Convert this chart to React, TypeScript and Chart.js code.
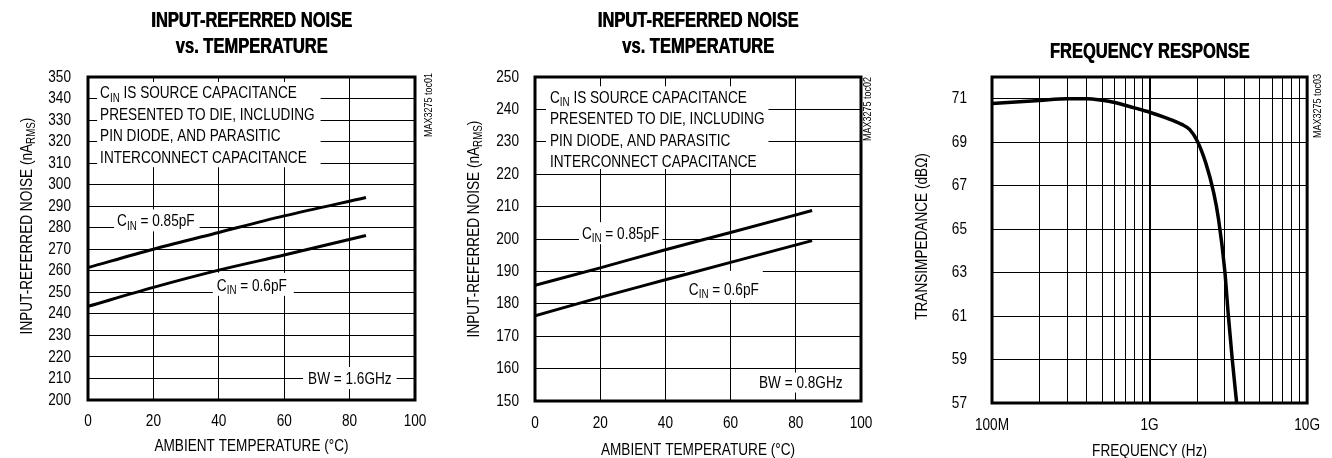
import React, { useEffect, useRef } from 'react';
import { Chart, registerables } from 'chart.js';

Chart.register(...registerables);

const FONT = "'Liberation Sans', Arial, sans-serif";
const SX = 0.82; // horizontal condensing of regular text (Helvetica Condensed look)
const SXB = 0.75; // condensing of bold (title) text
Chart.defaults.font.family = FONT;
Chart.defaults.color = '#000';

// ---------- data ----------
const TEMP_C = [0, 20, 40, 60, 85];
const NOISE_BW16_085PF = [261.5, 270.0, 277.8, 285.5, 294.0];
const NOISE_BW16_06PF = [243.5, 252.3, 260.3, 267.3, 276.4];
const NOISE_BW08_085PF = [185.7, 191.1, 196.7, 202.0, 208.8];
const NOISE_BW08_06PF = [176.3, 182.0, 187.4, 192.8, 199.5];

const FREQ_HZ = [1e8, 2e8, 3e8, 4e8, 5e8, 6e8, 7e8, 8e8, 1e9, 1.26e9, 1.6e9, 1.8e9, 2.0e9, 2.27e9, 2.55e9, 2.74e9, 3.0e9, 3.16e9, 3.35e9, 3.57e9];
const TRANSIMPEDANCE_DB = [70.78, 70.92, 71.0, 71.0, 70.93, 70.83, 70.7, 70.58, 70.38, 70.13, 69.82, 69.58, 69.08, 68.06, 66.69, 65.46, 63.1, 61.05, 58.98, 57.0];

const FREQ_GRID = [1e8, 2e8, 3e8, 4e8, 5e8, 6e8, 7e8, 8e8, 9e8, 1e9, 2e9, 3e9, 4e9, 5e9, 6e9, 7e9, 8e9, 9e9, 1e10];
const FREQ_LABELS: Record<string, string> = { '100000000': '100M', '1000000000': '1G', '10000000000': '10G' };
const DB_TICKS = [57, 59, 61, 63, 65, 67, 69, 71];

type Seg = { t: string; sub?: boolean };
type Note = { x: number; y: number; lines: Seg[][]; padL: number; padR: number; padT: number; padB: number };

const CIN: Seg[] = [{ t: 'C' }, { t: 'IN', sub: true }];
const NOTE_LINES: Seg[][] = [
  [...CIN, { t: ' IS SOURCE CAPACITANCE' }],
  [{ t: 'PRESENTED TO DIE, INCLUDING' }],
  [{ t: 'PIN DIODE, AND PARASITIC' }],
  [{ t: 'INTERCONNECT CAPACITANCE' }],
];

const TXT = 16.6;
const LINE_GAP = 21.4;
const CAP = 0.716;

function condense(ctx: any) {
  if (ctx.__condensed) return;
  ctx.__condensed = true;
  const origFill = ctx.fillText.bind(ctx);
  const origMeasure = ctx.measureText.bind(ctx);
  const isBold = () => /bold|[6-9]00/.test(ctx.font);
  ctx.fillText = function (text: string, x: number, y: number, maxWidth?: number) {
    const bold = isBold();
    const sx = bold ? SXB : SX;
    ctx.save();
    ctx.translate(x, y);
    ctx.scale(sx, 1);
    const mw = maxWidth === undefined || maxWidth === null ? undefined : maxWidth / sx;
    const draw = (dx: number) => (mw === undefined ? origFill(text, dx, 0) : origFill(text, dx, 0, mw));
    draw(0);
    if (bold) draw(0.7);
    ctx.restore();
  };
  ctx.measureText = function (text: string) {
    const sx = isBold() ? SXB : SX;
    const m = origMeasure(text);
    return {
      width: m.width * sx,
      actualBoundingBoxAscent: m.actualBoundingBoxAscent,
      actualBoundingBoxDescent: m.actualBoundingBoxDescent,
      actualBoundingBoxLeft: m.actualBoundingBoxLeft * sx,
      actualBoundingBoxRight: m.actualBoundingBoxRight * sx,
      fontBoundingBoxAscent: m.fontBoundingBoxAscent,
      fontBoundingBoxDescent: m.fontBoundingBoxDescent,
    };
  };
}

function segWidth(ctx: CanvasRenderingContext2D, segs: Seg[], size: number) {
  let w = 0;
  for (const s of segs) {
    ctx.font = `${s.sub ? size * 0.72 : size}px ${FONT}`;
    w += ctx.measureText(s.t).width;
  }
  return w;
}

function drawSegs(ctx: CanvasRenderingContext2D, segs: Seg[], x: number, baseline: number, size: number) {
  let cx = x;
  ctx.textAlign = 'left';
  ctx.textBaseline = 'alphabetic';
  for (const s of segs) {
    ctx.font = `${s.sub ? size * 0.72 : size}px ${FONT}`;
    ctx.fillText(s.t, cx, s.sub ? baseline + size * 0.2 : baseline);
    cx += ctx.measureText(s.t).width;
  }
}

type Decor = {
  notes: Note[];
  yTitle: Seg[];
  yTitleX: number;
  yTitleY: number;
  code: string;
  codeDx: number;
  codeDy: number;
};

function makeDecor(cfg: Decor) {
  return {
    id: 'decor',
    beforeDatasetsDraw(chart: any) {
      const { ctx, scales } = chart;
      ctx.save();
      for (const n of cfg.notes) {
        const left = scales.x.getPixelForValue(n.x);
        const top = scales.y.getPixelForValue(n.y);
        const maxW = Math.max(...n.lines.map((l) => segWidth(ctx, l, TXT)));
        ctx.fillStyle = '#fff';
        ctx.fillRect(left - n.padL, top - n.padT, maxW + n.padL + n.padR, (n.lines.length - 1) * LINE_GAP + n.padT + n.padB);
        ctx.fillStyle = '#000';
        n.lines.forEach((l, i) => drawSegs(ctx, l, left, top + i * LINE_GAP + (TXT * CAP) / 2, TXT));
      }
      ctx.restore();
    },
    afterDatasetsDraw(chart: any) {
      const { ctx, chartArea: a } = chart;
      ctx.save();
      ctx.strokeStyle = '#000';
      ctx.lineWidth = 3;
      ctx.strokeRect(a.left, a.top, a.right - a.left, a.bottom - a.top);
      ctx.restore();
    },
    afterDraw(chart: any) {
      const { ctx, chartArea: a } = chart;
      ctx.save();
      ctx.fillStyle = '#000';
      ctx.translate(cfg.yTitleX, cfg.yTitleY);
      ctx.rotate(-Math.PI / 2);
      const w = segWidth(ctx, cfg.yTitle, TXT);
      drawSegs(ctx, cfg.yTitle, -w / 2, (TXT * CAP) / 2, TXT);
      ctx.restore();
      ctx.save();
      ctx.fillStyle = '#000';
      ctx.translate(a.right + cfg.codeDx, a.top + cfg.codeDy);
      ctx.rotate(-Math.PI / 2);
      ctx.font = `11px ${FONT}`;
      ctx.textAlign = 'center';
      ctx.textBaseline = 'middle';
      ctx.fillText(cfg.code, 0, 0);
      ctx.restore();
    },
  };
}

function lineDs(xs: number[], ys: number[], width = 3) {
  return {
    data: xs.map((x, i) => ({ x, y: ys[i] })),
    borderColor: '#000',
    backgroundColor: '#000',
    borderWidth: width,
    pointRadius: 0,
    cubicInterpolationMode: 'monotone' as const,
    fill: false,
  };
}

type Lay = {
  yWidth: number;
  padRight: number;
  xHeight: number;
  yTickPad: number;
  xTickPad: number;
  xTitlePad: number;
};

const TITLE_FONT = { family: FONT, size: 22, weight: 'bold', lineHeight: 26 / 22 };

function tempConfig(
  title: string[],
  yMin: number,
  yMax: number,
  s085: number[],
  s06: number[],
  lay: Lay,
  decor: Decor
): any {
  return {
    type: 'line',
    data: { datasets: [lineDs(TEMP_C, s085), lineDs(TEMP_C, s06)] },
    options: {
      responsive: false,
      animation: false,
      devicePixelRatio: 1,
      layout: { padding: { left: 0, right: lay.padRight, top: 0, bottom: 0 } },
      plugins: {
        legend: { display: false },
        tooltip: { enabled: false },
        title: {
          display: true,
          text: title,
          fullSize: false,
          color: '#000',
          font: TITLE_FONT,
          padding: { top: 8, bottom: 17 },
        },
      },
      scales: {
        x: {
          type: 'linear',
          min: 0,
          max: 100,
          ticks: { stepSize: 20, padding: lay.xTickPad, font: { size: TXT }, color: '#000', maxRotation: 0 },
          grid: { color: '#000', lineWidth: 1, drawTicks: false },
          border: { display: false },
          title: {
            display: true,
            text: 'AMBIENT TEMPERATURE (°C)',
            color: '#000',
            font: { size: TXT },
            padding: { top: 0, bottom: lay.xTitlePad },
          },
          afterFit: (s: any) => {
            s.height = lay.xHeight;
          },
        },
        y: {
          type: 'linear',
          min: yMin,
          max: yMax,
          ticks: { stepSize: 10, padding: lay.yTickPad, font: { size: TXT }, color: '#000', autoSkip: false },
          grid: { color: '#000', lineWidth: 1, drawTicks: false },
          border: { display: false },
          afterFit: (s: any) => {
            s.width = lay.yWidth;
          },
        },
      },
    },
    plugins: [makeDecor(decor)],
  };
}

function freqConfig(): any {
  return {
    type: 'line',
    data: { datasets: [lineDs(FREQ_HZ, TRANSIMPEDANCE_DB, 3.5)] },
    options: {
      responsive: false,
      animation: false,
      devicePixelRatio: 1,
      layout: { padding: { left: 0, right: 14, top: 0, bottom: 0 } },
      plugins: {
        legend: { display: false },
        tooltip: { enabled: false },
        title: {
          display: true,
          text: 'FREQUENCY RESPONSE',
          fullSize: false,
          color: '#000',
          font: TITLE_FONT,
          padding: { top: 39, bottom: 12 },
        },
      },
      scales: {
        x: {
          type: 'logarithmic',
          min: 1e8,
          max: 1e10,
          afterBuildTicks: (axis: any) => {
            axis.ticks = FREQ_GRID.map((v) => ({ value: v }));
          },
          ticks: {
            autoSkip: false,
            maxRotation: 0,
            padding: 12,
            font: { size: TXT },
            color: '#000',
            callback: (v: any) => FREQ_LABELS[String(v)] ?? '',
          },
          grid: {
            color: '#000',
            drawTicks: false,
            lineWidth: (c: any) => (c.tick && c.tick.value === 1e9 ? 2 : 1),
          },
          border: { display: false },
          title: {
            display: true,
            text: 'FREQUENCY (Hz)',
            color: '#000',
            font: { size: TXT },
            padding: { top: 0, bottom: 2.3 },
          },
          afterFit: (s: any) => {
            s.height = 61;
          },
        },
        y: {
          type: 'linear',
          min: 57,
          max: 72,
          afterBuildTicks: (axis: any) => {
            axis.ticks = DB_TICKS.map((v) => ({ value: v }));
          },
          ticks: { autoSkip: false, padding: 25, font: { size: TXT }, color: '#000' },
          grid: { color: '#000', lineWidth: 1, drawTicks: false },
          border: { display: false },
          afterFit: (s: any) => {
            s.width = 104;
          },
        },
      },
    },
    plugins: [
      makeDecor({
        notes: [],
        yTitle: [{ t: 'TRANSIMPEDANCE (dBΩ)' }],
        yTitleX: 33,
        yTitleY: 236.5,
        code: 'MAX3275 toc03',
        codeDx: 11,
        codeDy: 29,
      }),
    ],
  };
}

const NOISE_TITLE = ['INPUT-REFERRED NOISE', 'vs. TEMPERATURE'];
const Y_NOISE: Seg[] = [{ t: 'INPUT-REFERRED NOISE (nA' }, { t: 'RMS', sub: true }, { t: ')' }];

function config1() {
  return tempConfig(
    NOISE_TITLE,
    200,
    350,
    NOISE_BW16_085PF,
    NOISE_BW16_06PF,
    { yWidth: 88, padRight: 29, xHeight: 64, yTickPad: 17, xTickPad: 11, xTitlePad: 7.3 },
    {
      notes: [
        { x: 3.7, y: 342.8, lines: NOTE_LINES, padL: 3, padR: 6, padT: 10.5, padB: 10.5 },
        { x: 8.9, y: 283.4, lines: [[...CIN, { t: ' = 0.85pF' }]], padL: 3, padR: 5, padT: 11, padB: 11 },
        { x: 39.4, y: 253.5, lines: [[...CIN, { t: ' = 0.6pF' }]], padL: 4, padR: 7, padT: 12, padB: 11 },
        { x: 67.3, y: 210.2, lines: [[{ t: 'BW = 1.6GHz' }]], padL: 5, padR: 5, padT: 11, padB: 11 },
      ],
      yTitle: Y_NOISE,
      yTitleX: 26,
      yTitleY: 226,
      code: 'MAX3275 toc01',
      codeDx: 14,
      codeDy: 28,
    }
  );
}

function config2() {
  return tempConfig(
    NOISE_TITLE,
    150,
    250,
    NOISE_BW08_085PF,
    NOISE_BW08_06PF,
    { yWidth: 91, padRight: 27, xHeight: 63, yTickPad: 16, xTickPad: 12.8, xTitlePad: 3.3 },
    {
      notes: [
        { x: 4.6, y: 243.9, lines: NOTE_LINES, padL: 4, padR: 4, padT: 10.5, padB: 8 },
        { x: 14.4, y: 201.8, lines: [[...CIN, { t: ' = 0.85pF' }]], padL: 3, padR: 3, padT: 11, padB: 11 },
        { x: 47.2, y: 184.6, lines: [[...CIN, { t: ' = 0.6pF' }]], padL: 4, padR: 4, padT: 18, padB: 11 },
        { x: 68.7, y: 156, lines: [[{ t: 'BW = 0.8GHz' }]], padL: 5, padR: 5, padT: 9, padB: 11 },
      ],
      yTitle: Y_NOISE,
      yTitleX: 29,
      yTitleY: 229,
      code: 'MAX3275 toc02',
      codeDx: 7,
      codeDy: 32,
    }
  );
}

function ChartBox({ left, make }: { left: number; make: () => any }) {
  const ref = useRef<HTMLCanvasElement | null>(null);
  useEffect(() => {
    const canvas = ref.current;
    if (!canvas) return;
    const ctx = canvas.getContext('2d');
    if (ctx) condense(ctx);
    const c = new Chart(canvas, make());
    return () => c.destroy();
  }, []);
  return (
    <canvas
      ref={ref}
      width={444}
      height={464}
      style={{ position: 'absolute', left, top: 0, width: 444, height: 464, display: 'block' }}
    />
  );
}

export default function App() {
  return (
    <div
      style={{
        position: 'fixed',
        left: 0,
        top: 0,
        width: 1332,
        height: 458,
        overflow: 'hidden',
        background: '#fff',
      }}
    >
      <ChartBox left={0} make={config1} />
      <ChartBox left={444} make={config2} />
      <ChartBox left={888} make={freqConfig} />
    </div>
  );
}
